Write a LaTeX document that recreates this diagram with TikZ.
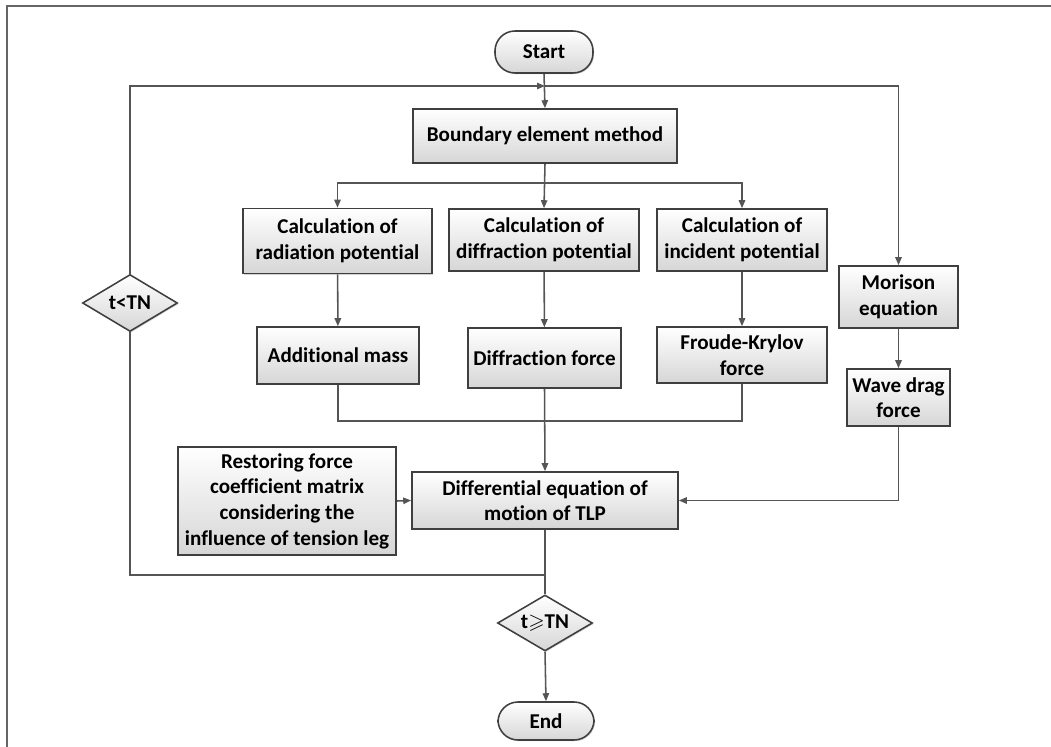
\documentclass[tikz,border=0pt]{standalone}
\usepackage{amssymb}
\usepackage{fontspec}
\setmainfont{Carlito}[Ligatures=NoCommon]
\usepackage{tikz}
\usetikzlibrary{arrows.meta,positioning,calc,shapes.geometric,shadows}
\usepackage{xcolor}
\definecolor{edge}{HTML}{3F3F3F}
\definecolor{wire}{HTML}{555555}
\tikzset{
  procbox/.style={draw=edge, line width=1.1pt, top color=white, bottom color=black!16, align=center, inner sep=2pt, font=\fontsize{15}{18.2}\selectfont\bfseries, drop shadow={shadow xshift=0.8pt, shadow yshift=-0.8pt, fill=black!35, opacity=0.5}},
  termbox/.style={procbox, rounded corners=0.5cm},
  decbox/.style={procbox, diamond, aspect=1.7, inner sep=0pt},
  arrow/.style={-{Triangle[length=2mm,width=1.6mm]}, draw=wire, line width=1.1pt},
  wire/.style={draw=wire, line width=1.1pt}
}
\begin{document}
\begin{tikzpicture}[x=0.025cm, y=-0.025cm]
\useasboundingbox (0,0) rectangle (1051,747);
% ---- frame ----
\draw[wire, draw=edge!80] (7,747) -- (7,6) -- (1051,6);
% ---- nodes ----
\node[termbox, minimum width=2.45cm, minimum height=1.05cm] (start) at (544,52) {Start};
\node[procbox, minimum width=6.6cm, minimum height=1.35cm] (bem) at (545,136) {Boundary element method};
\node[procbox, minimum width=4.725cm, minimum height=1.625cm] (rad) at (337.5,241) {Calculation of\\radiation potential};
\node[procbox, minimum width=4.75cm, minimum height=1.55cm] (dif) at (544,240) {Calculation of\\diffraction potential};
\node[procbox, minimum width=4.25cm, minimum height=1.55cm] (inc) at (742,240) {Calculation of\\incident potential};
\node[procbox, minimum width=4.05cm, minimum height=1.425cm] (addm) at (338,355.5) {Additional mass};
\node[procbox, minimum width=3.825cm, minimum height=1.5cm] (dforce) at (544.5,358) {Diffraction force};
\node[procbox, minimum width=4.25cm, minimum height=1.4cm] (fk) at (742,355) {Froude-Krylov\\force};
\node[procbox, minimum width=2.975cm, minimum height=1.55cm] (mor) at (898.5,297) {Morison\\equation};
\node[procbox, minimum width=2.575cm, minimum height=1.425cm] (wave) at (898.5,397.5) {Wave drag\\force};
\node[procbox, minimum width=5.45cm, minimum height=2.7cm] (rest) at (287,501) {Restoring force\\coefficient matrix\\considering the\\influence of tension leg};
\node[procbox, minimum width=6.65cm, minimum height=1.425cm] (deq) at (545,500.5) {Differential equation of\\motion of TLP};
\node[decbox, minimum width=2.375cm, minimum height=1.425cm] (lt) at (130,303) {t<TN};
\node[decbox, minimum width=2.375cm, minimum height=1.4cm] (ge) at (545,623) {t$\geqslant$TN};
\node[termbox, minimum width=2.4cm, minimum height=0.95cm] (end) at (546,721) {End};
% ---- junctions ----
\coordinate (jtop) at (545,86);
\coordinate (jsplit) at (545,183);
\coordinate (jmerge) at (545,421);
\coordinate (jloop) at (545,575);
% ---- connectors ----
\draw[arrow] (start.south) -- (bem.north);
\draw[arrow] (lt.north) |- (jtop);
\draw[arrow] (jtop) -| (mor.north);
\draw[arrow] (bem.south) -- (dif.north);
\draw[arrow] (jsplit) -| (rad.north);
\draw[arrow] (jsplit) -| (inc.north);
\draw[arrow] (rad) -- (addm);
\draw[arrow] (dif) -- (dforce);
\draw[arrow] (inc) -- (fk);
\draw[arrow] (mor) -- (wave);
\draw[wire] (addm.south) |- (jmerge) -| (fk.south);
\draw[arrow] (dforce.south) -- (deq.north);
\draw[arrow] (rest.east) -- (deq.west);
\draw[arrow] (wave.south) |- (deq.east);
\draw[wire] (deq.south) -- (ge.north);
\draw[wire] (jloop) -| (lt.south);
\draw[arrow] (ge.south) -- (end.north);
\end{tikzpicture}
\end{document}
